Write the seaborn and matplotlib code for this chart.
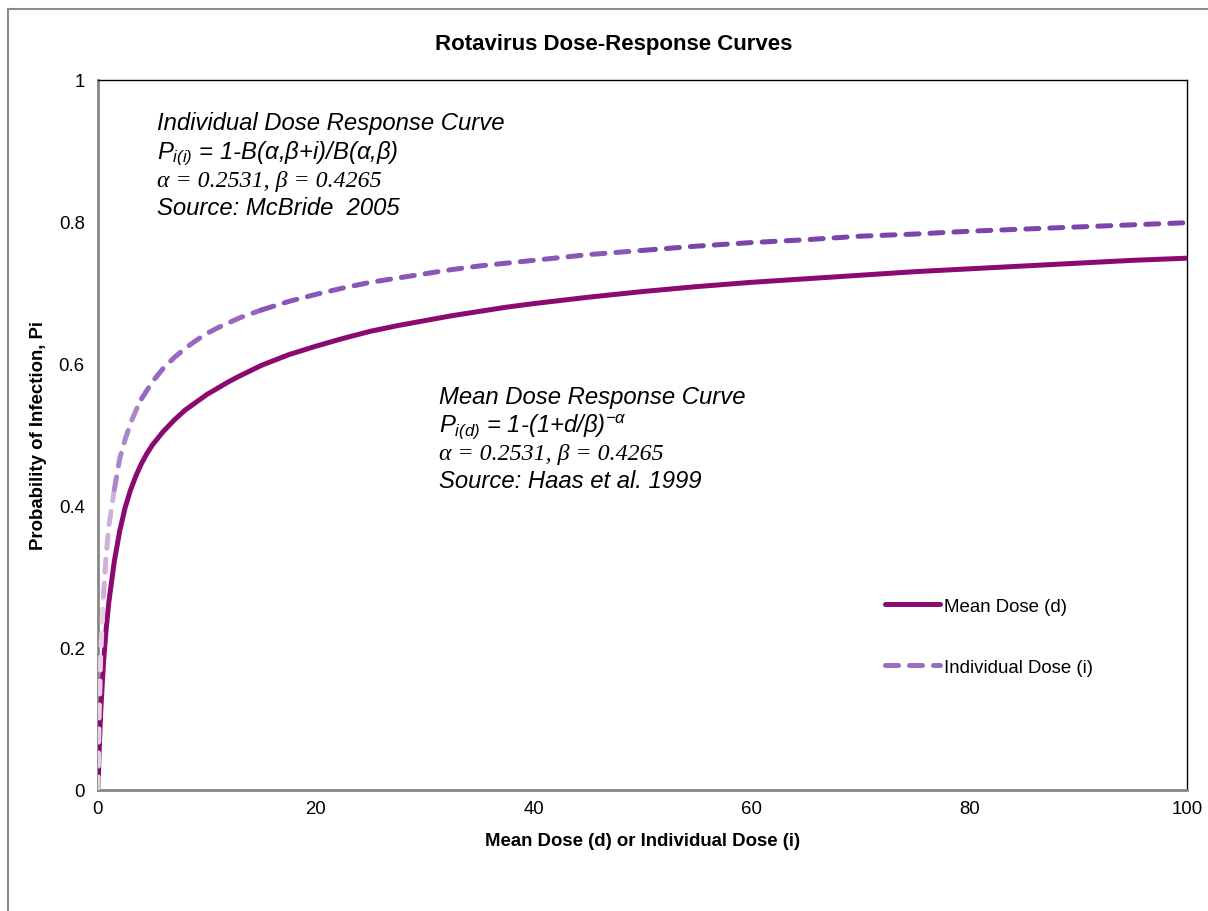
import numpy as np
import pandas as pd
import matplotlib
matplotlib.use("Agg")
import matplotlib.pyplot as plt
from matplotlib.lines import Line2D
from matplotlib.ticker import MultipleLocator
import seaborn as sns

# valeurs
dose = [0, 0.1, 0.25, 0.5, 0.75, 1, 1.5, 2, 2.5, 3, 3.5, 4, 4.5, 5, 6, 7, 8,
        9, 10, 11, 12, 13, 15, 17.5, 20, 22.5, 25, 27.5, 30, 32.5, 35, 37.5,
        40, 45, 50, 55, 60, 65, 70, 75, 80, 85, 90, 95, 100]
mean_p = [0, 0.052, 0.110, 0.178, 0.226, 0.265, 0.322, 0.365, 0.398, 0.423,
          0.443, 0.460, 0.474, 0.486, 0.505, 0.521, 0.535, 0.546, 0.557,
          0.566, 0.575, 0.583, 0.598, 0.613, 0.625, 0.636, 0.646, 0.654,
          0.661, 0.668, 0.674, 0.680, 0.685, 0.694, 0.702, 0.709, 0.715,
          0.720, 0.725, 0.730, 0.734, 0.738, 0.742, 0.746, 0.749]
indiv_p = [0, 0.095, 0.190, 0.273, 0.330, 0.372, 0.423, 0.467, 0.494, 0.517,
           0.535, 0.551, 0.563, 0.575, 0.594, 0.609, 0.622, 0.633, 0.643,
           0.651, 0.658, 0.665, 0.676, 0.688, 0.698, 0.707, 0.715, 0.721,
           0.727, 0.733, 0.738, 0.742, 0.746, 0.754, 0.760, 0.766, 0.771,
           0.775, 0.780, 0.783, 0.787, 0.790, 0.793, 0.796, 0.799]
x_ticks = [0, 20, 40, 60, 80, 100]
y_ticks = [0, 0.2, 0.4, 0.6, 0.8, 1]
y_labels = ['0', '0.2', '0.4', '0.6', '0.8', '1']

df = pd.DataFrame({"dose": dose, "mean": mean_p, "indiv": indiv_p})

sns.set_theme(style="white")
plt.rcParams['font.family'] = ['Liberation Sans', 'DejaVu Sans']
plt.rcParams['text.color'] = 'black'
plt.rcParams['axes.labelcolor'] = 'black'
plt.rcParams['xtick.labelcolor'] = 'black'
plt.rcParams['ytick.labelcolor'] = 'black'
plt.rcParams['mathtext.fontset'] = 'custom'
plt.rcParams['mathtext.it'] = 'Liberation Sans:italic'
plt.rcParams['mathtext.rm'] = 'Liberation Sans:italic'
plt.rcParams['mathtext.sf'] = 'Liberation Sans:italic'

fig = plt.figure(figsize=(12.08, 9.12), dpi=100)
ax = fig.add_axes([0.0811, 0.1327, 0.9015, 0.7785])

c_mean = '#8b0a70'
lw = 3.6
tirets = (0, (2.6, 2.2))

# courbe dose moyenne
sns.lineplot(data=df, x="dose", y="mean", ax=ax, color=c_mean, lw=lw,
             zorder=3, estimator=None)

# courbe dose individuelle, en dégradé (plus clair près de zéro)
breaks = [0, 0.5, 1.5, 4, 15, 50, 100]
grad = ['#ead0e4', '#cfb0da', '#ad86ca', '#9868c0', '#8a56b7', '#7d44ac']
for lo, hi, col in zip(breaks[:-1], breaks[1:], grad):
    part = df[(df["dose"] >= lo) & (df["dose"] <= hi)]
    sns.lineplot(data=part, x="dose", y="indiv", ax=ax, color=col, lw=lw,
                 linestyle=tirets, dash_capstyle='round',
                 zorder=4, estimator=None)

ax.set_xlim(0, 100)
ax.set_ylim(0, 1)
ax.set_xticks(x_ticks)
ax.set_yticks(y_ticks)
ax.set_xticklabels([str(t) for t in x_ticks])
ax.set_yticklabels(y_labels)
ax.xaxis.set_minor_locator(MultipleLocator(10))
ax.yaxis.set_minor_locator(MultipleLocator(0.1))
ax.set_xlabel("")
ax.set_ylabel("")

gris = '#868686'
for s in ['left', 'bottom']:
    ax.spines[s].set_color(gris)
    ax.spines[s].set_linewidth(2.0)
for s in ['top', 'right']:
    ax.spines[s].set_color('black')
    ax.spines[s].set_linewidth(1.0)

ax.tick_params(axis='x', which='both', direction='in', length=3.6, width=1.2,
               color=gris, labelsize=13.4, pad=7)
ax.tick_params(axis='y', which='major', direction='inout', length=7, width=1.2,
               color=gris, labelsize=13.4, pad=6)
ax.tick_params(axis='y', which='minor', direction='in', length=3.6, width=1.2,
               color=gris)

# titres
fig.text(0.508, 0.9507, "Rotavirus Dose-Response Curves", ha='center',
         va='center', fontsize=16, fontweight='bold')
fig.text(0.532, 0.0768, "Mean Dose (d) or Individual Dose (i)", ha='center',
         va='center', fontsize=13.4, fontweight='bold')
fig.text(0.0315, 0.522, "Probability of Infection, Pi", ha='center',
         va='center', rotation=90, fontsize=13.4, fontweight='bold')

# annotations
fs = 17.2
ax.text(5.42, 0.940, "Individual Dose Response Curve", fontsize=fs,
        style='italic', va='center')
ax.text(5.42, 0.898, r"$P_{i(i)}$ = 1-B(α,β+i)/B(α,β)", fontsize=fs,
        style='italic', va='center')
ax.text(5.42, 0.858, "α = 0.2531, β = 0.4265", fontsize=fs,
        family='Liberation Serif', style='italic', va='center')
ax.text(5.42, 0.820, "Source: McBride  2005", fontsize=fs,
        style='italic', va='center')

ax.text(31.3, 0.554, "Mean Dose Response Curve", fontsize=fs,
        style='italic', va='center')
ax.text(31.3, 0.513, r"$P_{i(d)}$ = 1-(1+d/β)$^{-\alpha}$", fontsize=fs,
        style='italic', va='center')
ax.text(31.3, 0.474, "α = 0.2531, β = 0.4265", fontsize=fs,
        family='Liberation Serif', style='italic', va='center')
ax.text(31.3, 0.436, "Source: Haas et al. 1999", fontsize=fs,
        style='italic', va='center')

# légende
handles = [Line2D([], [], color=c_mean, lw=lw, solid_capstyle='round'),
           Line2D([], [], color='#9a6cc4', lw=lw, linestyle=tirets,
                  dash_capstyle='round')]
ax.legend(handles, ["Mean Dose (d)", "Individual Dose (i)"], loc='upper left',
          bbox_to_anchor=(0.7227, 0.2705), frameon=False, fontsize=13.4,
          handlelength=2.96, handletextpad=0.2, labelspacing=2.35,
          borderpad=0, borderaxespad=0)

# cadre extérieur du graphique
x0 = 8 / 1208
y0 = 1 - 10 / 912
fig.add_artist(Line2D([x0, x0], [0, y0], transform=fig.transFigure,
                      color='#8c8c8c', lw=1.5))
fig.add_artist(Line2D([x0, 1], [y0, y0], transform=fig.transFigure,
                      color='#8c8c8c', lw=1.5))

fig.savefig("out.png", dpi=100, facecolor='white')
